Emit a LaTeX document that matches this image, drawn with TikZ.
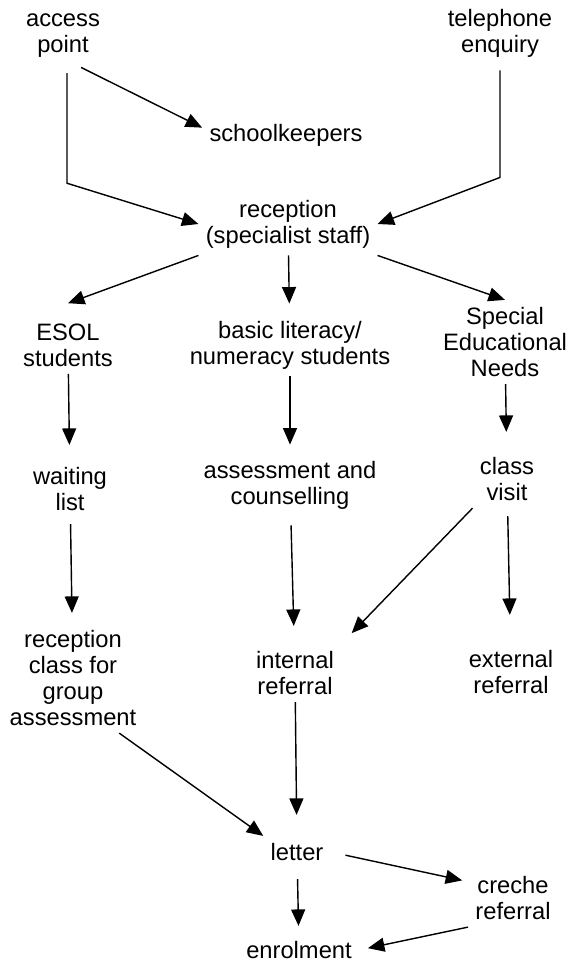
\documentclass[tikz,border=0pt]{standalone}
\usepackage{fontspec}
\setmainfont{Liberation Sans}
\usetikzlibrary{arrows.meta, positioning}

\begin{document}
\begin{tikzpicture}[node distance=2.2cm, font=\fontsize{13.5}{14.8}\selectfont]
    \tikzstyle{stage} = [align=center, inner sep=4pt]
    \tikzstyle{arrow} = [line width=0.8pt, -{Triangle[length=3.3mm, width=2.8mm]}]

    \useasboundingbox (0,0) rectangle (11.42,-19.3);

    \node (access) [stage] at (1.26,-0.72) {access\\point};
    \node (phone) [stage, right of=access, xshift=6.54cm, yshift=0.06cm] {telephone\\enquiry};
    \node (keepers) [stage, below of=access, xshift=4.46cm, yshift=0.22cm] {schoolkeepers};
    \node (reception) [stage, below of=keepers, xshift=0.04cm, yshift=0.42cm] {reception\\(specialist staff)};
    \node (basic) [stage, below of=reception, xshift=0.04cm, yshift=-0.22cm] {basic literacy/\\numeracy students};
    \node (esol) [stage, left of=basic, xshift=-2.24cm] {ESOL\\students};
    \node (sen) [stage, right of=basic, xshift=2.1cm, yshift=0.06cm] {Special\\Educational\\Needs};
    \node (assess) [stage, below of=basic, yshift=-0.6cm] {assessment and\\counselling};
    \node (waiting) [stage, below of=esol, xshift=0.04cm, yshift=-0.68cm] {waiting\\list};
    \node (visit) [stage, below of=sen, xshift=0.04cm, yshift=-0.54cm] {class\\visit};
    \node (internal) [stage, below of=assess, xshift=0.1cm, yshift=-1.56cm] {internal\\referral};
    \node (groupclass) [stage, below of=waiting, xshift=0.06cm, yshift=-1.58cm] {reception\\class for\\group\\assessment};
    \node (external) [stage, below of=visit, xshift=0.08cm, yshift=-1.66cm] {external\\referral};
    \node (letter) [stage, below of=internal, xshift=0.04cm, yshift=-1.38cm] {letter};
    \node (enrol) [stage, below of=letter, xshift=0.04cm, yshift=0.24cm] {enrolment};
    \node (creche) [stage, right of=letter, xshift=2.12cm, yshift=-0.92cm] {creche\\referral};

    \draw [arrow, shorten <=0.1cm] (access.-65) -- (keepers.175);
    \draw [arrow, shorten <=0.16cm] ([xshift=0.08cm]access.south) -- ++(0,-2.36) -- (reception.west);
    \draw [arrow, shorten <=0.12cm] (phone.south) -- ++(0,-2.26) -- (reception.east);
    \draw [arrow] (reception.south west) -- ([yshift=0.26cm]esol.north);
    \draw [arrow, shorten >=0.2cm] (reception) -- (basic);
    \draw [arrow] (reception.south east) -- (sen.north);
    \draw [arrow, shorten >=0.3cm] (esol) -- (waiting);
    \draw [arrow, shorten >=0.18cm] (basic) -- (assess);
    \draw [arrow, shorten >=0.36cm] (sen) -- (visit);
    \draw [arrow, shorten <=0.12cm, shorten >=0.2cm] (waiting) -- (groupclass);
    \draw [arrow, shorten <=0.18cm, shorten >=0.36cm] (assess) -- (internal);
    \draw [arrow, shorten >=0.3cm] (visit.south west) -- (internal.north east);
    \draw [arrow, shorten <=0.16cm, shorten >=0.56cm] (visit) -- (external);
    \draw [arrow] (groupclass.-50) -- (letter.north west);
    \draw [arrow, shorten >=0.42cm] (internal) -- (letter);
    \draw [arrow, shorten <=0.3cm, shorten >=0.12cm] (letter.east) -- (creche.160);
    \draw [arrow, shorten <=0.22cm, shorten >=0.16cm] (letter) -- (enrol);
    \draw [arrow, shorten >=0.18cm] (creche.south west) -- (enrol.east);
\end{tikzpicture}
\end{document}
